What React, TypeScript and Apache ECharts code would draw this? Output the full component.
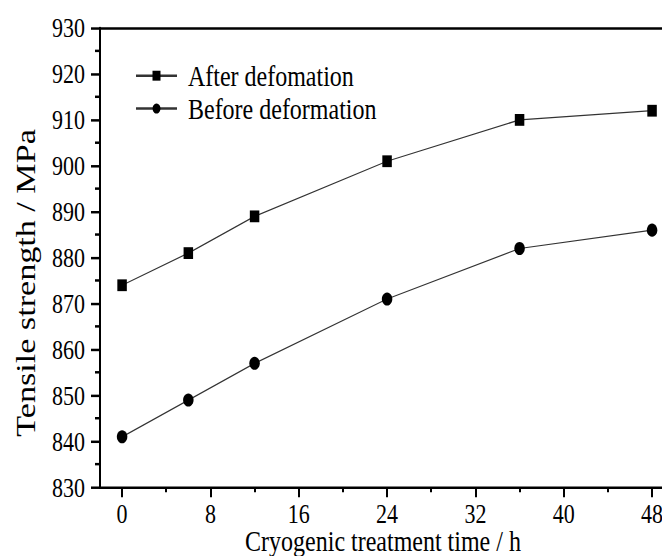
import React, { useEffect, useRef } from "react";
import * as echarts from "echarts";

const hours = [0, 6, 12, 24, 36, 48];
const afterDeformation = [874, 881, 889, 901, 910, 912];
const beforeDeformation = [841, 849, 857, 871, 882, 886];
const xMajorTicks = [0, 8, 16, 24, 32, 40, 48];
const xMinorTicks = [4, 12, 20, 28, 36, 44];
const seriesNames = ["After defomation", "Before deformation"];
const yAxisTitle = "Tensile strength / MPa";
const xAxisTitle = "Cryogenic treatment time / h";

const FONT = "'Liberation Serif', 'Times New Roman', serif";
const X_MIN = -2;
const X_MAX = 48.9;
// the reference picture is stretched vertically; we render at a base height and stretch with CSS
const STRETCH = 1.241;
const BASE_H = 448;

export default function App() {
  const ref = useRef<HTMLDivElement>(null);
  useEffect(() => {
    if (!ref.current) return;
    const chart = echarts.init(ref.current, undefined, { renderer: "svg" });
    chart.setOption({
      animation: false,
      backgroundColor: "#fff",
      textStyle: { fontFamily: FONT, color: "#000" },
      grid: { left: 100, top: 22.6, bottom: 55.3, right: 0, outerBoundsMode: "none", containLabel: false },
      legend: {
        left: 130,
        top: 44,
        orient: "vertical",
        itemGap: 2.5,
        itemWidth: 41,
        itemHeight: 10,
        textStyle: { fontFamily: FONT, fontSize: 24, lineHeight: 24, color: "#000", padding: [0, 0, 0, 6] },
        data: seriesNames,
      },
      graphic: [
        {
          type: "text",
          x: 26,
          y: 228,
          rotation: Math.PI / 2,
          style: {
            text: yAxisTitle,
            fontFamily: FONT,
            fontSize: 27.5,
            fontWeight: "normal",
            fill: "#000",
            align: "center",
            verticalAlign: "middle",
          },
        },
        {
          type: "text",
          x: 383,
          y: 436,
          style: {
            text: xAxisTitle,
            fontFamily: FONT,
            fontSize: 24,
            lineHeight: 18,
            fontWeight: "normal",
            fill: "#000",
            align: "center",
            verticalAlign: "middle",
          },
        },
      ],
      xAxis: [
        {
          type: "value",
          min: X_MIN,
          max: X_MAX,
          position: "bottom",
          axisLine: { show: true, onZero: false, lineStyle: { color: "#000", width: 2 } },
          axisTick: {
            show: true,
            inside: false,
            length: 8,
            customValues: xMajorTicks,
            lineStyle: { color: "#000", width: 2 },
          },
          axisLabel: {
            customValues: xMajorTicks,
            margin: 12,
            fontFamily: FONT,
            fontSize: 22,
            lineHeight: 18,
            color: "#000",
          },
          splitLine: { show: false },
        },
        {
          type: "value",
          min: X_MIN,
          max: X_MAX,
          position: "bottom",
          axisLine: { show: false },
          axisTick: {
            show: true,
            length: 4,
            customValues: xMinorTicks,
            lineStyle: { color: "#000", width: 2 },
          },
          axisLabel: { show: false },
          splitLine: { show: false },
        },
        {
          type: "value",
          min: X_MIN,
          max: X_MAX,
          position: "top",
          axisLine: { show: true, onZero: false, lineStyle: { color: "#000", width: 2 } },
          axisTick: { show: false },
          axisLabel: { show: false },
          splitLine: { show: false },
        },
      ],
      yAxis: {
        type: "value",
        min: 830,
        max: 930,
        interval: 10,
        axisLine: { show: true, onZero: false, lineStyle: { color: "#000", width: 2 } },
        axisTick: { show: true, length: 9, lineStyle: { color: "#000", width: 2 } },
        minorTick: { show: true, splitNumber: 2, length: 5, lineStyle: { color: "#000", width: 2 } },
        axisLabel: { margin: 15, fontFamily: FONT, fontSize: 22, color: "#000" },
        splitLine: { show: false },
      },
      series: [
        {
          name: seriesNames[0],
          type: "line",
          xAxisIndex: 0,
          data: hours.map((h, i) => [h, afterDeformation[i]]),
          symbol: "rect",
          symbolSize: 9.5,
          itemStyle: { color: "#000" },
          lineStyle: { color: "#333", width: 1 },
        },
        {
          name: seriesNames[1],
          type: "line",
          xAxisIndex: 0,
          data: hours.map((h, i) => [h, beforeDeformation[i]]),
          symbol: "circle",
          symbolSize: 10.5,
          itemStyle: { color: "#000" },
          lineStyle: { color: "#333", width: 1 },
        },
      ],
    });
    return () => chart.dispose();
  }, []);
  return (
    <div
      ref={ref}
      style={{
        width: 662,
        height: BASE_H,
        position: "fixed",
        left: 0,
        top: 0,
        transform: `scaleY(${STRETCH})`,
        transformOrigin: "0 0",
      }}
    />
  );
}
